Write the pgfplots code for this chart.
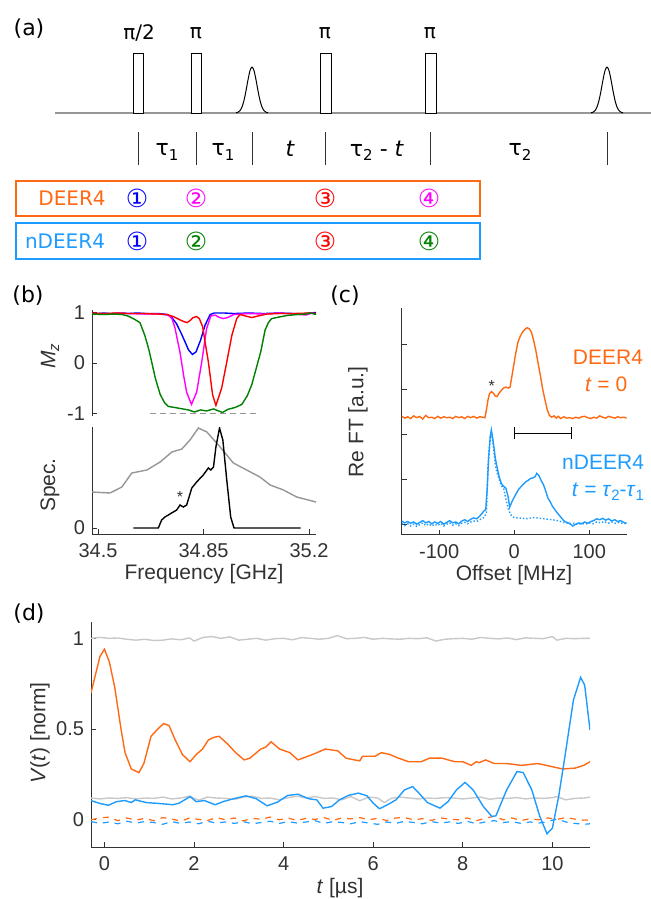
\documentclass[border=0pt]{standalone}
\usepackage{fontspec}
\setmainfont{Liberation Sans}
\newfontfamily\dv{DejaVu Sans}
\usepackage{pgfplots}
\pgfplotsset{compat=1.18}
\definecolor{corange}{RGB}{255,105,20}
\definecolor{cblue}{RGB}{30,155,255}
\definecolor{cgreen}{RGB}{0,128,0}
\definecolor{cmag}{RGB}{255,0,255}
\definecolor{cred}{RGB}{255,0,0}
\definecolor{cbl}{RGB}{0,0,255}
\definecolor{lgrey}{RGB}{200,200,200}
\definecolor{mgrey}{RGB}{150,150,150}
\definecolor{axgrey}{RGB}{50,50,50}
\newcommand{\subs}[2]{\raisebox{-0.35ex}{\fontsize{#1}{#1}\selectfont #2}}
\newcommand{\fa}{\dv\fontsize{10}{12}\selectfont}
\newcommand{\ft}{\dv\fontsize{11}{12}\selectfont}
\newcommand{\fc}{\dv\fontsize{12.5}{13}\selectfont}
\newcommand{\fl}{\fontsize{10.5}{12}\selectfont}
\newcommand{\fp}{\dv\fontsize{11}{12}\selectfont}
\pgfplotsset{
  dataax/.style={anchor=north west, scale only axis, axis line style={axgrey,line width=0.5pt},
    tick align=inside, major tick length=2.5pt, tick style={axgrey,line width=0.5pt},
    tick label style={font=\fontsize{10}{10}\selectfont, text=axgrey},
    xticklabel style={yshift=-1.3pt},
    every axis plot/.append style={line width=0.7pt}},
}
\begin{document}
\begin{tikzpicture}
\path[use as bounding box] (0pt,0pt) rectangle (325.5pt,-449.5pt);
% ---------------- overlay axis in pixel coordinates ----------------
\begin{axis}[at={(0pt,0pt)}, anchor=north west, scale only axis, width=325.5pt, height=449.5pt,
  xmin=0, xmax=651, ymin=0, ymax=899, y dir=reverse, hide axis, clip=false]
% panel (a)
\addplot[mgrey, line width=0.6pt] coordinates {(55,113) (651,113)};
\addplot[black, line width=0.5pt, fill=white] coordinates {(133,113) (133,53) (143,53) (143,113) (133,113)};
\addplot[black, line width=0.5pt, fill=white] coordinates {(191,113) (191,53) (201,53) (201,113) (191,113)};
\addplot[black, line width=0.5pt, fill=white] coordinates {(320,113) (320,53) (331,53) (331,113) (320,113)};
\addplot[black, line width=0.5pt, fill=white] coordinates {(425,113) (425,53) (436,53) (436,113) (425,113)};
\addplot[black, line width=0.5pt, smooth] coordinates {(236,112.8) (238,112.2) (240,110.6) (242,107) (244,100.4) (246,90.8) (248,79.8) (250,70.6) (252,67) (254,70.6) (256,79.8) (258,90.8) (260,100.4) (262,107) (264,110.6) (266,112.2) (268,112.8)};
\addplot[black, line width=0.5pt, smooth] coordinates {(591,112.8) (593,112.2) (595,110.6) (597,107) (599,100.4) (601,90.8) (603,79.8) (605,70.6) (607,67) (609,70.6) (611,79.8) (613,90.8) (615,100.4) (617,107) (619,110.6) (621,112.2) (623,112.8)};
\addplot[axgrey, line width=0.5pt] coordinates {(138,132) (138,165)};
\addplot[axgrey, line width=0.5pt] coordinates {(196,132) (196,165)};
\addplot[axgrey, line width=0.5pt] coordinates {(252,132) (252,165)};
\addplot[axgrey, line width=0.5pt] coordinates {(325,132) (325,165)};
\addplot[axgrey, line width=0.5pt] coordinates {(430,132) (430,165)};
\addplot[axgrey, line width=0.5pt] coordinates {(607,132) (607,165)};
\node[font=\fa] at (axis cs:139,33) {π/2};
\node[font=\fa] at (axis cs:196,33) {π};
\node[font=\fa] at (axis cs:325,33) {π};
\node[font=\fa] at (axis cs:430,33) {π};
\node[font=\ft] at (axis cs:167,152) {τ\subs{7.5}{1}};
\node[font=\ft] at (axis cs:223,152) {τ\subs{7.5}{1}};
\node[font=\ft] at (axis cs:290,149) {\itshape t};
\node[font=\ft] at (axis cs:377,151) {τ\subs{7.5}{2} - \textit{t}};
\node[font=\ft] at (axis cs:520,152) {τ\subs{7.5}{2}};
\draw[corange, line width=0.8pt] (axis cs:16,181) rectangle (axis cs:480,216);
\draw[cblue, line width=0.8pt] (axis cs:16,223) rectangle (axis cs:480,259);
\node[font=\fa, text=corange] at (axis cs:72,198) {DEER4};
\node[font=\fa, text=cblue] at (axis cs:65,241) {nDEER4};
\node[font=\fc, text=cbl] at (axis cs:137,198) {①};
\node[font=\fc, text=cmag] at (axis cs:196,198) {②};
\node[font=\fc, text=cred] at (axis cs:325,198) {③};
\node[font=\fc, text=cmag] at (axis cs:429,198) {④};
\node[font=\fc, text=cbl] at (axis cs:137,241) {①};
\node[font=\fc, text=cgreen] at (axis cs:196,241) {②};
\node[font=\fc, text=cred] at (axis cs:325,241) {③};
\node[font=\fc, text=cgreen] at (axis cs:429,241) {④};
% panel labels
\node[font=\fp] at (axis cs:29,29) {(a)};
\node[font=\fp] at (axis cs:28,296) {(b)};
\node[font=\fp] at (axis cs:345,296) {(c)};
\node[font=\fp] at (axis cs:29,614) {(d)};
% axis labels
\node[font=\fl, rotate=90, text=axgrey] at (axis cs:50,356) {\textit{M}\subs{7.5}{\textit{z}}};
\node[font=\fl, rotate=90, text=axgrey] at (axis cs:50,485) {Spec.};
\node[font=\fl, text=axgrey] at (axis cs:204,574) {Frequency [GHz]};
\node[font=\fl, rotate=90, text=axgrey] at (axis cs:358,422) {Re FT [a.u.]};
\node[font=\fl, text=axgrey] at (axis cs:514,575) {Offset [MHz]};
\node[font=\fl, rotate=90, text=axgrey] at (axis cs:40,733) {\textit{V}(\textit{t}) [norm]};
\node[font=\fl, text=axgrey] at (axis cs:340,888) {\textit{t} [µs]};
\node[font=\fontsize{8}{8}\selectfont, text=axgrey] at (axis cs:180,497) {*};
\node[font=\fontsize{8}{8}\selectfont, text=axgrey] at (axis cs:491.7,386) {*};
\node[font=\fl, text=corange, anchor=east] at (axis cs:650,357) {DEER4};
\node[font=\fl, text=corange, anchor=west] at (axis cs:578,384) {\textit{t} = 0};
\node[font=\fl, text=cblue, anchor=east] at (axis cs:651,462) {nDEER4};
\node[font=\fl, text=cblue, anchor=east] at (axis cs:651,492) {\textit{t} = \textit{τ}\subs{7.5}{2}-\textit{τ}\subs{7.5}{1}};
\end{axis}
% ---------------- panel (b) upper ----------------
\begin{axis}[dataax, at={(46pt,-155pt)}, width=112pt, height=53pt,
  xmin=34.48, xmax=35.223, ymin=-1.05, ymax=1.05,
  axis x line=none, axis y line*=left, ytick={-1,0,1}, yticklabels={-1,0,1}]
\addplot[mgrey, densely dashed, line width=0.5pt] coordinates {(34.673,-1) (35.027,-1)};
\addplot[cbl] coordinates {(34.48,0.99) (34.50,0.98) (34.52,0.99) (34.55,0.97) (34.58,0.99) (34.60,0.98) (34.63,0.99) (34.66,0.98) (34.70,0.98) (34.73,0.96) (34.745,0.9) (34.76,0.78) (34.775,0.6) (34.79,0.4) (34.80,0.26) (34.813,0.17) (34.825,0.22) (34.84,0.45) (34.855,0.75) (34.872,0.96) (34.885,0.99) (34.92,0.99) (34.95,0.98) (35.0,0.99) (35.05,0.98) (35.1,0.99) (35.15,0.98) (35.18,0.97) (35.2,0.99) (35.223,1.0)};
\addplot[cmag] coordinates {(34.48,0.98) (34.52,0.97) (34.56,0.99) (34.60,0.98) (34.65,0.97) (34.70,0.97) (34.733,0.95) (34.745,0.88) (34.755,0.7) (34.772,0.21) (34.784,-0.25) (34.794,-0.58) (34.81,-0.82) (34.827,-0.58) (34.844,0.02) (34.86,0.68) (34.874,0.93) (34.888,0.95) (34.9,0.91) (34.915,0.88) (34.93,0.90) (34.95,0.96) (35.0,0.98) (35.05,0.97) (35.1,0.99) (35.15,0.97) (35.19,0.95) (35.21,0.99) (35.223,0.97)};
\addplot[cred] coordinates {(34.48,0.99) (34.52,0.98) (34.56,0.99) (34.60,0.98) (34.65,0.98) (34.70,0.97) (34.73,0.96) (34.75,0.92) (34.77,0.86) (34.785,0.82) (34.795,0.80) (34.805,0.84) (34.815,0.90) (34.827,0.92) (34.836,0.88) (34.847,0.72) (34.856,0.38) (34.866,0.02) (34.88,-0.63) (34.891,-0.84) (34.91,-0.5) (34.927,0.02) (34.944,0.55) (34.96,0.88) (34.971,0.96) (34.99,0.93) (35.01,0.90) (35.03,0.93) (35.06,0.97) (35.1,0.98) (35.15,0.98) (35.2,0.99) (35.223,0.98)};
\addplot[cgreen] coordinates {(34.48,0.97) (34.52,0.96) (34.55,0.97) (34.58,0.96) (34.60,0.93) (34.62,0.87) (34.639,0.80) (34.655,0.55) (34.668,0.28) (34.678,0.02) (34.69,-0.30) (34.706,-0.62) (34.72,-0.78) (34.733,-0.86) (34.772,-0.90) (34.80,-0.93) (34.82,-0.97) (34.84,-0.93) (34.86,-0.95) (34.883,-0.91) (34.9,-0.95) (34.913,-0.98) (34.93,-0.92) (34.955,-0.88) (34.977,-0.82) (34.995,-0.65) (35.01,-0.43) (35.025,-0.10) (35.04,0.23) (35.054,0.65) (35.065,0.80) (35.076,0.88) (35.1,0.91) (35.126,0.94) (35.16,0.96) (35.19,0.97) (35.205,0.99) (35.223,0.96)};
\end{axis}
% ---------------- panel (b) lower ----------------
\begin{axis}[dataax, at={(46pt,-213.5pt)}, width=112pt, height=53.5pt,
  xmin=34.48, xmax=35.223, ymin=-0.06, ymax=1.01,
  axis x line*=bottom, axis y line*=left, ytick={0}, yticklabels={0},
  xtick={34.5,34.85,35.2}, xticklabels={34.5,34.85,35.2}]
\addplot[mgrey] coordinates {(34.479,0.36) (34.54,0.35) (34.579,0.41) (34.612,0.55) (34.662,0.58) (34.706,0.66) (34.745,0.76) (34.778,0.79) (34.805,0.88) (34.833,1.0) (34.861,0.96) (34.905,0.81) (34.949,0.65) (34.993,0.58) (35.037,0.51) (35.071,0.43) (35.115,0.38) (35.159,0.31) (35.223,0.26)};
\addplot[black] coordinates {(34.617,0) (34.70,0) (34.711,0.08) (34.722,0.11) (34.744,0.15) (34.761,0.18) (34.772,0.23) (34.783,0.21) (34.794,0.23) (34.811,0.40) (34.827,0.46) (34.849,0.53) (34.866,0.60) (34.874,0.58) (34.883,0.61) (34.891,0.81) (34.903,1.0) (34.914,0.88) (34.927,0.48) (34.940,0.11) (34.951,0) (35.172,0)};
\end{axis}
% ---------------- panel (c) ----------------
\begin{axis}[dataax, at={(200.85pt,-154pt)}, width=112.5pt, height=113.5pt,
  xmin=-150, xmax=150, ymin=-0.24, ymax=4.81,
  axis x line*=bottom, axis y line*=left, ytick={0,1,2,3,4}, yticklabels={},
  xtick={-100,0,100}, xticklabels={-100,0,100}]
\addplot[corange] coordinates {(-150,2.40) (-146,2.36) (-142,2.39) (-138,2.35) (-134,2.41) (-130,2.37) (-126,2.40) (-122,2.34) (-118,2.42) (-114,2.37) (-110,2.38) (-106,2.35) (-102,2.40) (-98,2.36) (-94,2.39) (-90,2.37) (-86,2.38) (-82,2.35) (-78,2.40) (-74,2.37) (-70,2.39) (-66,2.35) (-62,2.40) (-58,2.37) (-54,2.40) (-50,2.36) (-46,2.39) (-42,2.38) (-39,2.37) (-37,2.55) (-35,2.76) (-33,2.90) (-30.5,2.95) (-28,2.92) (-25,2.85) (-23,2.84) (-20,2.92) (-17,2.98) (-14,3.03) (-11,3.05) (-8,3.03) (-5.5,3.05) (-3,3.30) (0,3.60) (2,3.80) (5,4.05) (8,4.18) (11,4.27) (14,4.33) (17,4.37) (20,4.35) (23,4.27) (26,4.08) (29,3.85) (32,3.57) (35,3.30) (38,3.00) (41,2.77) (44,2.55) (47,2.42) (50,2.38) (53,2.41) (56,2.36) (59,2.40) (62,2.35) (66,2.39) (70,2.36) (74,2.37) (78,2.35) (82,2.38) (86,2.36) (90,2.39) (94,2.40) (98,2.37) (102,2.35) (106,2.38) (110,2.36) (114,2.41) (118,2.38) (122,2.36) (126,2.40) (130,2.38) (134,2.36) (138,2.39) (142,2.37) (146,2.38) (150,2.36)};
\addplot[cblue, densely dotted] coordinates {(-150,0.02) (-146,-0.03) (-142,0.01) (-138,-0.04) (-134,0.0) (-130,-0.05) (-126,-0.01) (-122,0.03) (-118,-0.03) (-114,0.01) (-110,-0.04) (-106,0.0) (-102,-0.03) (-98,0.02) (-94,-0.04) (-90,0.0) (-86,0.03) (-82,-0.02) (-78,0.01) (-74,-0.03) (-70,0.02) (-66,0.04) (-62,0.01) (-58,0.05) (-54,0.07) (-50,0.06) (-46,0.10) (-43,0.13) (-40,0.15) (-37,0.25) (-35,1.3) (-32,1.9) (-30.5,2.05) (-29,1.9) (-27,1.6) (-25,1.3) (-23,1.15) (-20,1.0) (-17,0.85) (-14,0.80) (-11,0.55) (-8,0.35) (-5,0.22) (-2,0.16) (2,0.15) (6,0.13) (10,0.14) (15,0.12) (20,0.13) (25,0.15) (30,0.14) (35,0.13) (40,0.12) (45,0.11) (50,0.10) (55,0.09) (60,0.07) (65,0.04) (70,0.03) (75,0.0) (80,0.02) (85,-0.01) (90,0.02) (95,0.0) (100,0.03) (105,0.01) (110,0.05) (115,0.03) (120,0.06) (125,0.02) (130,0.05) (135,0.02) (140,0.04) (145,0.01) (150,0.02)};
\addplot[cblue] coordinates {(-150,0.07) (-146,0.03) (-142,0.06) (-138,0.02) (-134,0.05) (-130,0.00) (-126,0.04) (-122,0.08) (-118,0.03) (-114,0.06) (-110,0.01) (-106,0.05) (-102,0.02) (-98,0.06) (-94,0.00) (-90,0.04) (-86,0.08) (-82,0.03) (-78,0.05) (-74,0.01) (-70,0.07) (-66,0.10) (-62,0.06) (-58,0.11) (-54,0.14) (-50,0.12) (-46,0.18) (-43,0.24) (-40,0.30) (-38,0.32) (-36,0.8) (-34,1.5) (-32,1.95) (-30.5,2.10) (-29,1.95) (-27,1.70) (-25,1.45) (-23,1.28) (-20,1.05) (-17,0.90) (-14,0.84) (-11,0.80) (-8,0.60) (-6,0.38) (-3,0.50) (0,0.60) (3,0.69) (6,0.78) (10,0.85) (13,0.90) (16,0.95) (19,0.98) (22,1.02) (25,1.03) (28,1.06) (30,1.13) (33,1.08) (36,0.97) (39,0.88) (42,0.74) (45,0.58) (48,0.50) (51,0.40) (54,0.33) (57,0.26) (60,0.20) (63,0.14) (66,0.08) (70,0.04) (74,0.02) (78,-0.04) (82,0.00) (86,0.03) (90,0.01) (94,0.05) (98,0.02) (102,0.06) (106,0.08) (110,0.12) (114,0.10) (118,0.13) (122,0.09) (126,0.12) (130,0.07) (134,0.10) (138,0.06) (142,0.08) (146,0.04) (150,0.02)};
\addplot[black, line width=0.6pt, mark=|, mark size=3pt] coordinates {(0,2.02) (76,2.02)};
\end{axis}
% ---------------- panel (d) ----------------
\begin{axis}[dataax, at={(45.5pt,-311pt)}, width=249.5pt, height=112.5pt,
  xmin=-0.3, xmax=10.84, ymin=-0.15, ymax=1.09,
  axis x line*=bottom, axis y line*=left, ytick={0,0.5,1}, yticklabels={0,0.5,1},
  xtick={0,2,4,6,8,10}, xticklabels={0,2,4,6,8,10}]
\addplot[lgrey] coordinates {(-0.3,1.0) (-0.1,1.005) (0.1,1.0) (0.3,1.002) (0.5,0.995) (0.7,0.99) (0.9,0.995) (1.1,0.988) (1.3,0.99) (1.5,0.997) (1.7,0.992) (1.9,1.002) (2.0,0.985) (2.2,1.005) (2.4,1.01) (2.6,1.0) (2.8,1.008) (3.0,0.99) (3.2,0.995) (3.4,1.0) (3.6,0.99) (3.8,0.998) (4.0,1.0) (4.2,0.992) (4.4,1.004) (4.6,1.0) (4.8,0.995) (5.0,1.0) (5.2,1.015) (5.4,0.998) (5.6,1.0) (5.8,1.005) (6.0,0.995) (6.2,1.0) (6.4,0.997) (6.6,0.995) (6.8,1.0) (7.0,0.998) (7.2,1.003) (7.4,0.985) (7.6,0.995) (7.8,0.998) (8.0,1.0) (8.2,0.995) (8.4,1.005) (8.6,1.0) (8.8,0.997) (9.0,1.002) (9.2,0.993) (9.4,1.003) (9.6,1.0) (9.8,0.998) (10.0,1.01) (10.1,0.99) (10.3,1.0) (10.5,0.998) (10.7,1.0) (10.84,1.0)};
\addplot[lgrey] coordinates {(-0.3,0.12) (-0.1,0.115) (0.1,0.12) (0.3,0.118) (0.5,0.122) (0.7,0.115) (0.9,0.12) (1.1,0.118) (1.3,0.125) (1.5,0.115) (1.7,0.12) (1.9,0.13) (2.1,0.108) (2.3,0.125) (2.5,0.12) (2.7,0.118) (2.9,0.112) (3.1,0.125) (3.3,0.13) (3.5,0.118) (3.7,0.12) (3.9,0.11) (4.1,0.122) (4.3,0.13) (4.5,0.12) (4.7,0.128) (4.9,0.118) (5.1,0.12) (5.3,0.11) (5.5,0.128) (5.7,0.105) (5.9,0.125) (6.1,0.12) (6.25,0.095) (6.4,0.118) (6.6,0.125) (6.8,0.12) (7.0,0.115) (7.2,0.12) (7.4,0.118) (7.6,0.122) (7.8,0.12) (8.0,0.115) (8.2,0.12) (8.4,0.125) (8.6,0.113) (8.8,0.12) (9.0,0.118) (9.2,0.122) (9.4,0.115) (9.6,0.12) (9.8,0.118) (10.0,0.122) (10.1,0.128) (10.3,0.11) (10.5,0.118) (10.7,0.12) (10.84,0.125)};
\addplot[corange, dashed, line width=0.6pt] coordinates {(-0.3,0.0) (-0.1,0.01) (0.1,0.015) (0.3,-0.005) (0.5,0.01) (0.7,-0.002) (0.9,0.008) (1.1,-0.005) (1.3,0.012) (1.5,0.005) (1.7,-0.008) (1.9,0.01) (2.1,0.002) (2.3,-0.004) (2.5,0.012) (2.7,0.0) (2.9,0.01) (3.1,-0.006) (3.3,0.008) (3.5,0.003) (3.7,0.015) (3.9,0.0) (4.1,0.01) (4.3,-0.004) (4.5,0.008) (4.7,0.002) (4.9,0.012) (5.1,-0.003) (5.3,0.01) (5.5,0.005) (5.7,0.012) (5.9,0.0) (6.1,0.008) (6.3,-0.004) (6.5,0.01) (6.7,0.012) (6.9,0.0) (7.1,0.006) (7.3,-0.003) (7.5,0.01) (7.7,0.004) (7.9,0.0) (8.1,0.01) (8.3,-0.005) (8.5,0.008) (8.7,0.02) (8.9,0.0) (9.1,0.01) (9.3,-0.004) (9.5,0.006) (9.7,0.0) (9.9,0.01) (10.1,0.002) (10.3,0.012) (10.5,0.004) (10.7,-0.002) (10.84,0.0)};
\addplot[cblue, dashed, line width=0.6pt] coordinates {(-0.3,-0.01) (-0.1,-0.02) (0.1,-0.012) (0.3,-0.022) (0.5,-0.008) (0.7,-0.018) (0.9,-0.01) (1.1,-0.015) (1.3,-0.025) (1.5,-0.01) (1.7,-0.02) (1.9,-0.012) (2.1,-0.022) (2.3,-0.008) (2.5,-0.018) (2.7,-0.012) (2.9,-0.02) (3.1,-0.01) (3.3,-0.022) (3.5,-0.015) (3.7,-0.008) (3.9,-0.02) (4.1,-0.01) (4.3,-0.018) (4.5,-0.012) (4.7,-0.005) (4.9,-0.02) (5.1,-0.01) (5.3,-0.015) (5.5,-0.022) (5.7,-0.01) (5.9,-0.018) (6.1,-0.025) (6.3,-0.012) (6.5,-0.02) (6.7,-0.008) (6.9,-0.015) (7.1,-0.022) (7.3,-0.01) (7.5,-0.018) (7.7,-0.012) (7.9,-0.02) (8.1,-0.008) (8.3,-0.022) (8.5,-0.012) (8.7,-0.005) (8.9,-0.015) (9.1,-0.01) (9.3,-0.02) (9.5,-0.012) (9.7,-0.018) (9.9,-0.01) (10.1,0.005) (10.3,-0.012) (10.5,-0.02) (10.7,-0.025) (10.84,-0.022)};
\addplot[corange] coordinates {(-0.3,0.70) (-0.2,0.80) (-0.1,0.90) (0,0.94) (0.11,0.87) (0.23,0.73) (0.37,0.50) (0.46,0.37) (0.60,0.28) (0.77,0.26) (0.88,0.31) (1.04,0.46) (1.19,0.50) (1.32,0.53) (1.44,0.52) (1.58,0.44) (1.74,0.36) (1.91,0.32) (2.05,0.36) (2.19,0.39) (2.32,0.44) (2.45,0.455) (2.56,0.46) (2.74,0.42) (2.93,0.37) (3.12,0.33) (3.25,0.34) (3.49,0.39) (3.6,0.40) (3.72,0.43) (3.91,0.39) (4.14,0.37) (4.32,0.33) (4.65,0.36) (4.93,0.39) (5.21,0.38) (5.39,0.34) (5.58,0.33) (5.7,0.325) (5.76,0.35) (6.04,0.35) (6.18,0.37) (6.37,0.36) (6.56,0.34) (6.79,0.32) (7.07,0.32) (7.26,0.34) (7.53,0.34) (7.82,0.32) (8.00,0.32) (8.19,0.30) (8.3,0.32) (8.37,0.315) (8.51,0.33) (8.70,0.31) (8.98,0.31) (9.31,0.30) (9.68,0.31) (9.95,0.295) (10.23,0.28) (10.51,0.285) (10.70,0.30) (10.84,0.32)};
\addplot[cblue] coordinates {(-0.3,0.106) (-0.1,0.09) (0.09,0.08) (0.27,0.10) (0.46,0.106) (0.60,0.095) (0.69,0.11) (0.93,0.095) (1.21,0.09) (1.53,0.083) (1.67,0.092) (1.91,0.128) (2.05,0.10) (2.23,0.106) (2.47,0.083) (2.65,0.10) (2.88,0.116) (3.16,0.132) (3.39,0.116) (3.63,0.077) (3.86,0.097) (4.09,0.134) (4.32,0.141) (4.56,0.116) (4.74,0.11) (4.88,0.064) (5.07,0.073) (5.25,0.11) (5.44,0.134) (5.67,0.147) (5.86,0.132) (6.00,0.092) (6.14,0.061) (6.32,0.083) (6.51,0.11) (6.70,0.165) (6.88,0.183) (7.02,0.147) (7.21,0.095) (7.49,0.064) (7.67,0.10) (7.86,0.165) (8.05,0.206) (8.23,0.165) (8.46,0.073) (8.65,0.018) (8.74,0.022) (8.98,0.165) (9.21,0.266) (9.35,0.26) (9.54,0.165) (9.72,0.018) (9.88,-0.077) (10.0,-0.046) (10.14,0.128) (10.28,0.349) (10.47,0.66) (10.63,0.785) (10.72,0.743) (10.84,0.495)};
\end{axis}
\end{tikzpicture}
\end{document}
